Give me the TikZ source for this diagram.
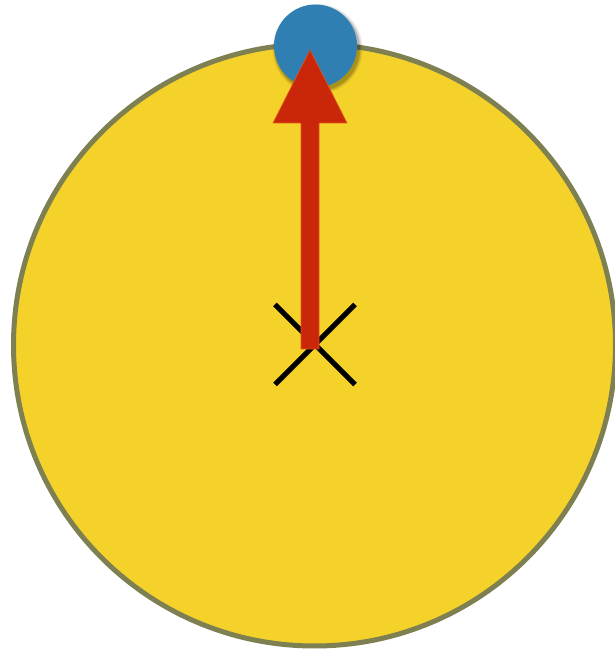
\documentclass[tikz,border=0pt]{standalone}
\definecolor{sunyellow}{HTML}{F5D22A}
\definecolor{rimolive}{HTML}{7E8052}
\definecolor{dotblue}{HTML}{2F7FB3}
\definecolor{arrowred}{HTML}{C9260A}
\definecolor{arroworange}{HTML}{E0541A}
\tikzset{
  bigdisc/.style={circle, fill=sunyellow, draw=rimolive, line width=5pt, minimum size=602pt, inner sep=0pt},
  bluedot/.style={circle, fill=dotblue, minimum size=83pt, inner sep=0pt},
  shadowring/.style={fill=black, fill opacity=0.07},
  crossline/.style={black, line width=5pt},
  arrowshape/.style={fill=arrowred, draw=arroworange, line width=0.6pt}
}
\begin{document}
\begin{tikzpicture}[x=1pt,y=1pt]
\useasboundingbox (0,0) rectangle (615,654);
\node[bigdisc] (disc) at (314.5,309) {};
\coordinate (centre) at (315,309.5);
\draw[crossline] ([shift={(-40,40)}]centre) -- ([shift={(40,-40)}]centre);
\draw[crossline] ([shift={(-40,-40)}]centre) -- ([shift={(40,40)}]centre);
\coordinate (shadowc) at (317.5,605);
\foreach \r in {45,44,43,42.5,42} {
  \fill[shadowring] (shadowc) circle (\r);
}
\node[bluedot] (dot) at (315.5,608) {};
\coordinate (tip) at (310,604);
\draw[arrowshape] (301,305) -- (301,531) -- (273,531) -- (tip) -- (347,531) -- (319,531) -- (319,305) -- cycle;
\end{tikzpicture}
\end{document}
